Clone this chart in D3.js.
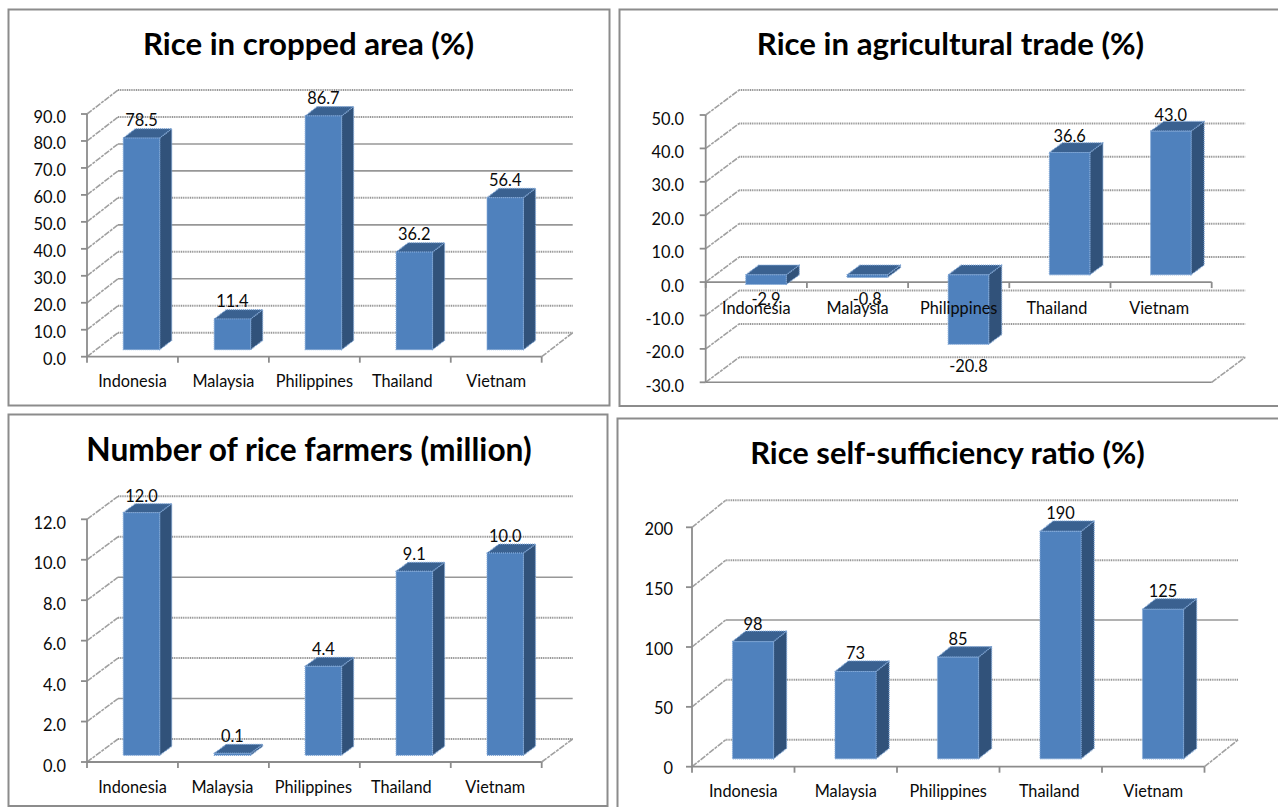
<!DOCTYPE html>
<html>
<head>
<meta charset="utf-8">
<script src="https://cdn.jsdelivr.net/npm/d3@7"></script>
<style>
html,body{margin:0;padding:0;background:#fff;overflow:hidden}
svg{display:block}
text{font-family:Lato,"Open Sans",sans-serif;fill:#0a0a0a}
</style>
</head>
<body>
<svg id="c" width="1278" height="807"></svg>
<script>
// ---- data ----
const countries = ["Indonesia","Malaysia","Philippines","Thailand","Vietnam"];
const titleArea = "Rice in cropped area (%)";
const titleTrade = "Rice in agricultural trade (%)";
const titleFarmers = "Number of rice farmers (million)";
const titleRatio = "Rice self-sufficiency ratio (%)";
const cropArea = [78.5,11.4,86.7,36.2,56.4];
const agTrade = [-2.9,-0.8,-20.8,36.6,43.0];
const farmers = [12.0,0.1,4.4,9.1,10.0];
const selfSuff = [98,73,85,190,125];
const ticksArea = [0,10,20,30,40,50,60,70,80,90];
const ticksTrade = [-30,-20,-10,0,10,20,30,40,50];
const ticksFarmers = [0,2,4,6,8,10,12];
const ticksRatio = [0,50,100,150,200];

// ---- layout ----
const f1 = v=>d3.format(".1f")(v).replace("\u2212","-");
const f0 = v=>d3.format("d")(v).replace("\u2212","-");
const panels = [
 {title:titleArea, values:cropArea, ticks:ticksArea, fmt:f1,
  frame:[8.5,9.5,601,396], tx:308.5, ty:42.5, tf:31.2, x0:87, x1:541.7, yMin:356.7, yMax:114, dx:31, dy:24,
  labelRight:66, catY:380, solid:[20,40,60,70], tickDy:2, valDy:-2, catNudge:[0,0,0,-3,0]},
 {title:titleTrade, values:agTrade, ticks:ticksTrade, fmt:f1,
  frame:[619.5,9.5,670,396.5], tx:950.5, ty:42.5, tf:31.2, x0:705.7, x1:1211.7, yMin:382.3, yMax:115, dx:33.5, dy:25,
  labelRight:684, catY:307.5, solid:[], tickDy:3, valDy:0, catNudge:[0,0,0,-3,-2]},
 {title:titleFarmers, values:farmers, ticks:ticksFarmers, fmt:f1,
  frame:[8.5,414.5,599,391.5], tx:309, ty:448.5, tf:31.7, x0:87, x1:541.7, yMin:762, yMax:519.3, dx:31, dy:23,
  labelRight:66, catY:786.5, solid:[2,8], tickDy:3, valDy:-1.5, catNudge:[0,-1,-1,-4,-1]},
 {title:titleRatio, values:selfSuff, ticks:ticksRatio, fmt:f0,
  frame:[617.5,418.5,670,400], tx:947.5, ty:452.5, tf:30.9, x0:692, x1:1204.5, yMin:766.7, yMax:527.3, dx:33.7, dy:27,
  labelRight:673, catY:790.5, solid:[100], tickDy:1, valDy:-1, catNudge:[0,0,0,-1.5,0]}
];
const C = {front:"#4f81bd", side:"#31527a", top:"#3a6190", edge:"#7fa6d6", grid:"#979797", axis:"#8c8c8c", frame:"#8c8c8c"};
const svg = d3.select("#c");
const catFont = 16.3, tickFont = 16.4, valFont = 16.4;
const line = d3.line();
const diag = s=>s.attr("fill","none").attr("stroke","#a0a0a0").attr("stroke-width",1.6).attr("stroke-dasharray","6 1 3 1");

panels.forEach(p=>{
  const g = svg.append("g");
  g.append("rect").attr("x",p.frame[0]).attr("y",p.frame[1]).attr("width",p.frame[2]).attr("height",p.frame[3])
    .attr("fill","#fff").attr("stroke",C.frame).attr("stroke-width",2);
  g.append("text").text(p.title).attr("x",p.tx).attr("y",p.ty).attr("text-anchor","middle").attr("dominant-baseline","central")
    .attr("font-size",p.tf).attr("font-weight",700).style("fill","#000");

  const dom = d3.extent(p.ticks);
  const y = d3.scaleLinear().domain(dom).range([p.yMin,p.yMax]);
  const x = d3.scaleBand().domain(countries).range([p.x0,p.x1]).paddingInner(0.6).paddingOuter(0.3);
  const xc = d3.scaleBand().domain(countries).range([p.x0,p.x1]);
  const dx = p.dx, dy = p.dy;
  const zero = y(Math.max(dom[0],0));

  // back wall gridlines and left wall diagonals
  p.ticks.forEach(t=>{
    const isSolid = p.solid.includes(t);
    g.append("path").attr("d",line([[p.x0+dx,y(t)-dy],[p.x1+dx,y(t)-dy]])).attr("fill","none")
      .attr("stroke",C.grid).attr("stroke-width",isSolid?1.6:2).attr("stroke-dasharray",isSolid?null:"1.1 0.7");
    g.append("path").attr("d",line([[p.x0,y(t)],[p.x0+dx,y(t)-dy]])).call(diag);
    g.append("path").attr("d",line([[p.x0-6,y(t)],[p.x0,y(t)]])).attr("stroke",C.axis).attr("stroke-width",1.8);
    g.append("text").text(p.fmt(t)).attr("x",p.labelRight).attr("y",y(t)+p.tickDy).attr("text-anchor","end")
      .attr("dominant-baseline","central").attr("font-size",tickFont);
  });
  // floor's right edge
  g.append("path").attr("d",line([[p.x1,y(dom[0])],[p.x1+dx,y(dom[0])-dy]])).call(diag);
  // axes
  g.append("path").attr("d",line([[p.x0,p.yMax],[p.x0,p.yMin]])).attr("stroke",C.axis).attr("stroke-width",1.8);
  if(dom[0]<0) g.append("path").attr("d",line([[p.x0,p.yMin],[p.x1,p.yMin]])).attr("stroke",C.axis).attr("stroke-width",1.5);
  g.append("path").attr("d",line([[p.x0,zero],[p.x1,zero]])).attr("stroke",C.axis).attr("stroke-width",1.8);
  xc.domain().concat("_end").forEach((c,i)=>{
    const tx = i<countries.length ? xc(c) : p.x1;
    g.append("path").attr("d",line([[tx,zero],[tx,zero+6]])).attr("stroke",C.axis).attr("stroke-width",1.8);
  });

  // bars
  const fx=0.29, fd=0.39;
  const ox=dx*fx, oy=dy*fx, bx=dx*fd, by=dy*fd;
  const labels=[];
  p.values.forEach((v,i)=>{
    const c=countries[i], l=x(c)+ox, r=l+x.bandwidth();
    const base=y(0)-oy, end=y(v)-oy;
    const t=Math.min(base,end), b=Math.max(base,end);
    const edgeStyle = s=>s.attr("stroke",C.edge).attr("stroke-width",1.2).attr("stroke-dasharray","1 1").attr("stroke-linejoin","round");
    g.append("path").attr("d",line([[r,t],[r+bx,t-by],[r+bx,b-by],[r,b]])+"Z").attr("fill",C.side).call(edgeStyle);
    g.append("path").attr("d",line([[l,t],[l+bx,t-by],[r+bx,t-by],[r,t]])+"Z").attr("fill",C.top).call(edgeStyle);
    g.append("path").attr("d",line([[l,t],[r,t],[r,b],[l,b]])+"Z").attr("fill",C.front).call(edgeStyle);
    const cx=(l+r)/2;
    let ly;
    if(v>=0) ly=t-by-7+p.valDy;
    else ly = v>-5 ? y(0)+16 : b+21;
    labels.push({t:p.fmt(v),x:cx,y:ly});
  });
  // category and value labels above the marks
  countries.forEach((c,i)=>{
    g.append("text").text(c).attr("x",xc(c)+xc.bandwidth()/2+p.catNudge[i]).attr("y",p.catY).attr("text-anchor","middle")
      .attr("dominant-baseline","central").attr("font-size",catFont);
  });
  labels.forEach(d=>{
    g.append("text").text(d.t).attr("x",d.x).attr("y",d.y).attr("text-anchor","middle")
      .attr("dominant-baseline","central").attr("font-size",valFont);
  });
});
</script>
</body>
</html>
